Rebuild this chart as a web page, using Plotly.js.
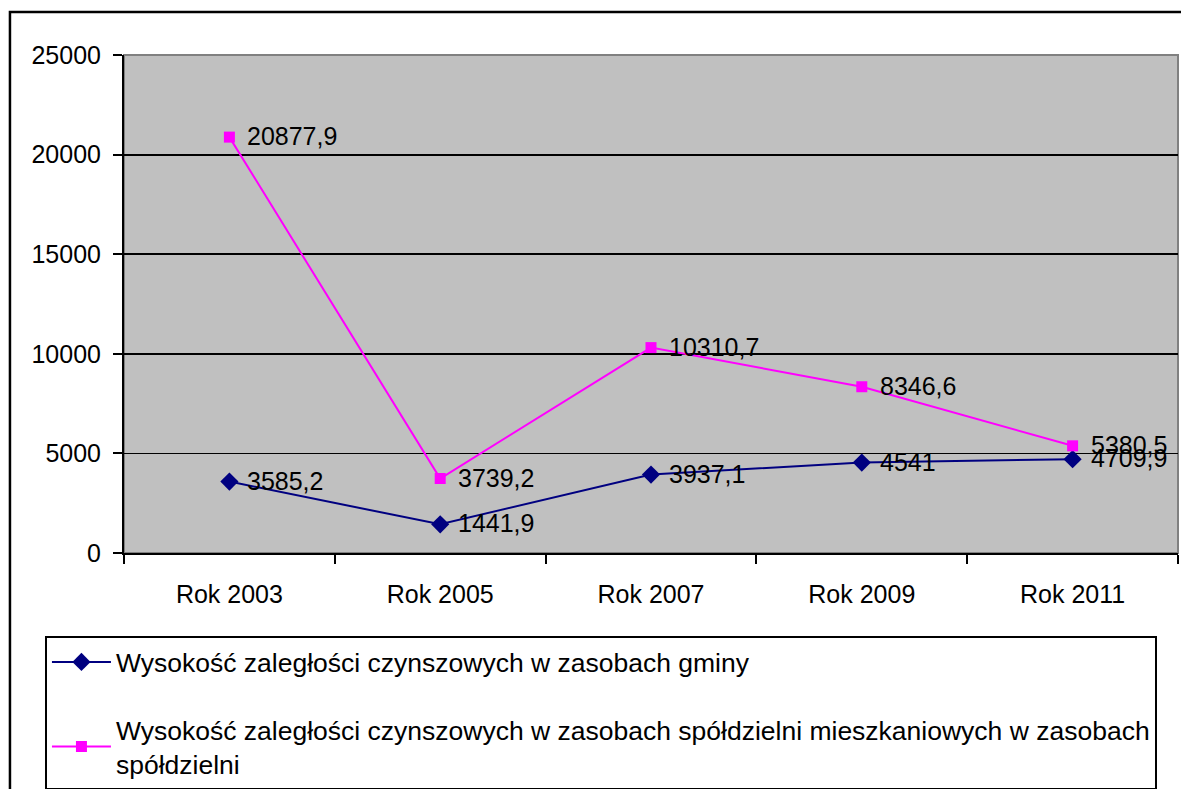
<!DOCTYPE html>
<html>
<head>
<meta charset="utf-8">
<script src="https://cdn.plot.ly/plotly-3.0.1.min.js"></script>
<style>html,body{margin:0;padding:0;background:#fff;}#chart{width:1181px;height:789px;}</style>
</head>
<body>
<div id="chart"></div>
<script>
const categories = ["Rok 2003", "Rok 2005", "Rok 2007", "Rok 2009", "Rok 2011"];
const gminaValues = [3585.2, 1441.9, 3937.1, 4541, 4709.9];
const spoldzielniaValues = [20877.9, 3739.2, 10310.7, 8346.6, 5380.5];
const seriesNames = [
  "Wysokość zaległości czynszowych w zasobach gminy",
  "Wysokość zaległości czynszowych w zasobach spółdzielni mieszkaniowych w zasobach<br>spółdzielni"
];
const yTicks = [0, 5000, 10000, 15000, 20000, 25000];

const fmt = v => String(v).replace('.', ',');
const FONT = 'Liberation Sans, Arial, sans-serif';
const FS = 25;

const traces = [
  {
    x: categories, y: gminaValues, name: seriesNames[0], legendgroup: 'a',
    type: 'scatter', mode: 'lines+markers',
    line: {color: '#000080', width: 2},
    marker: {symbol: 'diamond', size: 14, color: '#000080'},
    cliponaxis: false
  },
  {
    x: categories, y: spoldzielniaValues, name: seriesNames[1], legendgroup: 'b',
    type: 'scatter', mode: 'lines+markers',
    line: {color: '#FF00FF', width: 2},
    marker: {symbol: 'square', size: 11, color: '#FF00FF'},
    cliponaxis: false
  }
];

const labelAnn = (vals) => vals.map((v, i) => ({
  x: categories[i], y: v, xref: 'x', yref: 'y',
  text: fmt(v), showarrow: false, xanchor: 'left', yanchor: 'middle',
  xshift: 16, yshift: 1,
  font: {family: FONT, size: FS, color: '#000'}
}));

const layout = {
  width: 1181, height: 789,
  margin: {l: 124, r: 3, t: 55, b: 236, autoexpand: false},
  paper_bgcolor: '#ffffff',
  plot_bgcolor: '#C0C0C0',
  font: {family: FONT, size: FS, color: '#000'},
  showlegend: true,
  xaxis: {
    type: 'category', range: [-0.5, 4.5], tickson: 'boundaries',
    ticks: 'outside', ticklen: 9, tickwidth: 2, tickcolor: '#000',
    showline: true, linecolor: '#000', linewidth: 2,
    showgrid: false, zeroline: false,
    ticklabelstandoff: 18,
    tickfont: {family: FONT, size: FS, color: '#000'}
  },
  yaxis: {
    range: [0, 25000], tickvals: yTicks, ticktext: yTicks.map(String),
    ticks: 'outside', ticklen: 9, tickwidth: 2, tickcolor: '#000',
    showline: true, linecolor: '#000', linewidth: 2,
    showgrid: true, gridcolor: '#000', gridwidth: 1.8, zeroline: false,
    ticklabelstandoff: 7,
    tickfont: {family: FONT, size: FS, color: '#000'}
  },
  legend: {
    x: -0.075, y: -0.167, xanchor: 'left', yanchor: 'top',
    bgcolor: '#ffffff', bordercolor: '#000', borderwidth: 2,
    traceorder: 'grouped', tracegroupgap: 30,
    itemwidth: 59,
    font: {family: FONT, size: 26.5, color: '#000'}
  },
  annotations: labelAnn(gminaValues).concat(labelAnn(spoldzielniaValues)),
  shapes: [
    {type: 'rect', xref: 'paper', yref: 'paper', x0: 0, x1: 1, y0: 0, y1: 1,
     line: {color: '#808080', width: 2}, layer: 'below'},
    {type: 'rect', xref: 'paper', yref: 'paper', x0: -0.1082, x1: 1.1, y0: -0.6, y1: 1.0863,
     line: {color: '#000', width: 2.5}, fillcolor: 'rgba(0,0,0,0)', layer: 'above'}
  ]
};

Plotly.newPlot('chart', traces, layout, {displayModeBar: false, staticPlot: true});
</script>
</body>
</html>
